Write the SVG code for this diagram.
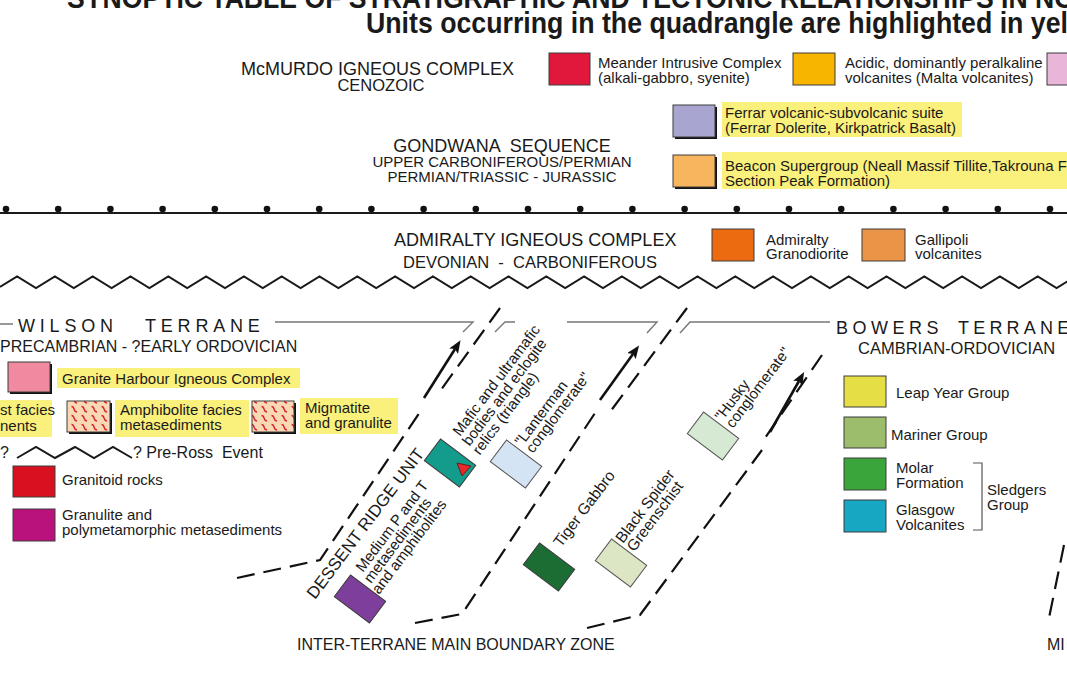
<svg xmlns="http://www.w3.org/2000/svg" width="1067" height="675" viewBox="0 0 1067 675">
<defs>
<style>
text{font-family:"Liberation Sans",Arial,Helvetica,sans-serif;fill:#1a1a1a}
.f18{font-size:18px}.f16{font-size:16px}.f15{font-size:15px}.r15{font-size:15px}
.bx{stroke:#3c3c3c;stroke-width:1}
.sh{fill:#111}
.hl{fill:#faf07c}
.dash{fill:none;stroke:#111;stroke-width:2.2;stroke-dasharray:18 9}
.arr{fill:none;stroke:#111;stroke-width:2.6;marker-end:url(#ah)}
.gl{fill:none;stroke:#777;stroke-width:1.4}
.sep{fill:none;stroke:#1a1a1a;stroke-width:2}
</style>
<marker id="ah" viewBox="0 0 10 8" refX="2" refY="4" markerWidth="5" markerHeight="4" orient="auto" markerUnits="strokeWidth">
<path d="M0,0 L10,4 L0,8 L2,4 Z" fill="#111"/>
</marker>
<pattern id="amph" width="10" height="9" patternUnits="userSpaceOnUse">
<rect width="10" height="9" fill="#f9d8b6"/>
<path d="M1.5,1.5 q2,0 2.5,2.5 t3,3" fill="none" stroke="#d8242a" stroke-width="1.4"/>
</pattern>
</defs>
<rect width="1067" height="675" fill="#fff"/>

<g id="title">
<text x="67" y="8" font-size="29" font-weight="bold" textLength="1008" lengthAdjust="spacingAndGlyphs">SYNOPTIC TABLE OF STRATIGRAPHIC AND TECTONIC RELATIONSHIPS IN NO</text>
<text x="366" y="33" font-size="29" font-weight="bold" textLength="702" lengthAdjust="spacingAndGlyphs">Units occurring in the quadrangle are highlighted in yel</text>
</g>

<g id="mcmurdo">
<text x="241" y="75" class="f18">McMURDO IGNEOUS COMPLEX</text>
<text x="381" y="91" font-size="16.5" text-anchor="middle">CENOZOIC</text>
</g>
<g id="meander">
<rect x="549" y="53" width="41" height="32" fill="#e2173c" class="bx"/>
<text x="598" y="68" class="f15">Meander Intrusive Complex</text>
<text x="598" y="83" class="f15">(alkali-gabbro, syenite)</text>
</g>
<g id="acidic">
<rect x="793" y="53" width="42" height="32" fill="#f7b500" class="bx"/>
<text x="845" y="68" class="f15">Acidic, dominantly peralkaline</text>
<text x="845" y="83" class="f15">volcanites (Malta volcanites)</text>
</g>
<g id="pinkunit">
<rect x="1047" y="53" width="30" height="32" fill="#e9b6da" class="bx"/>
</g>

<g id="gondwana">
<text x="502" y="152" font-size="18" text-anchor="middle" xml:space="preserve">GONDWANA  SEQUENCE</text>
<text x="502" y="167" class="f15" text-anchor="middle">UPPER CARBONIFEROUS/PERMIAN</text>
<text x="502" y="182" class="f15" text-anchor="middle">PERMIAN/TRIASSIC - JURASSIC</text>
</g>
<g id="ferrar">
<rect x="675" y="107" width="42" height="32" class="sh"/>
<rect x="673" y="105" width="42" height="32" fill="#a8a6d0" class="bx"/>
<rect x="722" y="102" width="240" height="35" class="hl"/>
<text x="725" y="118" class="f15">Ferrar volcanic-subvolcanic suite</text>
<text x="725" y="133" class="f15">(Ferrar Dolerite, Kirkpatrick Basalt)</text>
</g>
<g id="beacon">
<rect x="675" y="157" width="42" height="32" class="sh"/>
<rect x="673" y="155" width="42" height="32" fill="#f7b55e" class="bx"/>
<rect x="722" y="152" width="345" height="37" class="hl"/>
<text x="725" y="171" class="f15">Beacon Supergroup (Neall Massif Tillite,Takrouna Formation,</text>
<text x="725" y="186" class="f15">Section Peak Formation)</text>
</g>

<g id="boundaries">
<line x1="0" y1="213" x2="1067" y2="213" class="sep"/>
<g fill="#111">
<circle cx="6" cy="209" r="3.3"/><circle cx="58.2" cy="209" r="3.3"/><circle cx="110.4" cy="209" r="3.3"/><circle cx="162.6" cy="209" r="3.3"/><circle cx="214.8" cy="209" r="3.3"/><circle cx="267" cy="209" r="3.3"/><circle cx="319.2" cy="209" r="3.3"/><circle cx="371.4" cy="209" r="3.3"/><circle cx="423.6" cy="209" r="3.3"/><circle cx="475.8" cy="209" r="3.3"/><circle cx="528" cy="209" r="3.3"/><circle cx="580.2" cy="209" r="3.3"/><circle cx="632.4" cy="209" r="3.3"/><circle cx="684.6" cy="209" r="3.3"/><circle cx="736.8" cy="209" r="3.3"/><circle cx="789" cy="209" r="3.3"/><circle cx="841.2" cy="209" r="3.3"/><circle cx="893.4" cy="209" r="3.3"/><circle cx="945.6" cy="209" r="3.3"/><circle cx="997.8" cy="209" r="3.3"/><circle cx="1050" cy="209" r="3.3"/>
</g>
<path class="sep" d="M0,286.9 L17.1,276.5 l18.9,11.5 18.9,-11.5 l18.9,11.5 18.9,-11.5 l18.9,11.5 18.9,-11.5 l18.9,11.5 18.9,-11.5 l18.9,11.5 18.9,-11.5 l18.9,11.5 18.9,-11.5 l18.9,11.5 18.9,-11.5 l18.9,11.5 18.9,-11.5 l18.9,11.5 18.9,-11.5 l18.9,11.5 18.9,-11.5 l18.9,11.5 18.9,-11.5 l18.9,11.5 18.9,-11.5 l18.9,11.5 18.9,-11.5 l18.9,11.5 18.9,-11.5 l18.9,11.5 18.9,-11.5 l18.9,11.5 18.9,-11.5 l18.9,11.5 18.9,-11.5 l18.9,11.5 18.9,-11.5 l18.9,11.5 18.9,-11.5 l18.9,11.5 18.9,-11.5 l18.9,11.5 18.9,-11.5 l18.9,11.5 18.9,-11.5 l18.9,11.5 18.9,-11.5 l18.9,11.5 18.9,-11.5 l18.9,11.5 18.9,-11.5 l18.9,11.5 18.9,-11.5 l18.9,11.5 18.9,-11.5 l18.9,11.5 18.9,-11.5 l18.9,11.5 18.9,-11.5 l18.9,11.5 18.9,-11.5"/>
</g>

<g id="admiralty">
<text x="394" y="246" class="f18">ADMIRALTY IGNEOUS COMPLEX</text>
<text x="403" y="268" font-size="16.5" xml:space="preserve">DEVONIAN  -  CARBONIFEROUS</text>
</g>
<g id="admiralty-granodiorite">
<rect x="712" y="229" width="42" height="32" fill="#ec6a10" class="bx"/>
<text x="766" y="245" class="f15">Admiralty</text>
<text x="766" y="259" class="f15">Granodiorite</text>
</g>
<g id="gallipoli">
<rect x="862" y="229" width="43" height="32" fill="#ea9447" class="bx"/>
<text x="915" y="245" class="f15">Gallipoli</text>
<text x="915" y="259" class="f15">volcanites</text>
</g>

<g id="wilson">
<path class="gl" d="M0,324 H13 M275,322 H473 L463,332 M495,332 L505,322 H515 M567,322 H657 L647,333 M680,333 L690,322 H830"/>
<text x="18" y="332" class="f18" letter-spacing="4.8">WILSON</text>
<text x="145" y="332" class="f18" letter-spacing="4.8">TERRANE</text>
<text x="0" y="352" class="f16">PRECAMBRIAN - ?EARLY ORDOVICIAN</text>
</g>
<g id="granite-harbour">
<rect x="10" y="364" width="42" height="30" class="sh"/>
<rect x="8" y="362" width="42" height="30" fill="#ef8aa0" class="bx"/>
<rect x="57" y="368" width="243" height="20" class="hl"/>
<text x="62" y="384" class="f15">Granite Harbour Igneous Complex</text>
</g>
<g id="greenschist">
<rect x="0" y="400" width="52" height="37" class="hl"/>
<text x="0" y="415" class="f15">st facies</text>
<text x="0" y="431" class="f15">nents</text>
</g>
<g id="amphibolite">
<rect x="69" y="403" width="43" height="31" class="sh"/>
<rect x="67" y="401" width="43" height="31" fill="url(#amph)" class="bx"/>
<rect x="115" y="400" width="134" height="37" class="hl"/>
<text x="120" y="415" class="f15">Amphibolite facies</text>
<text x="120" y="430" class="f15">metasediments</text>
</g>
<g id="migmatite">
<rect x="254" y="403" width="42" height="31" class="sh"/>
<rect x="252" y="401" width="42" height="31" fill="url(#amph)" class="bx"/>
<rect x="300" y="398" width="98" height="36" class="hl"/>
<text x="305" y="413" class="f15">Migmatite</text>
<text x="305" y="428" class="f15">and granulite</text>
</g>
<g id="pre-ross">
<text x="0" y="458" class="f16">?</text>
<path class="sep" d="M17,458 L36,447 L55,458 L75,447 L94,458 L113,447 L132,458" stroke-width="1.5"/>
<text x="133" y="458" class="f16" xml:space="preserve">? Pre-Ross  Event</text>
</g>
<g id="granitoid">
<rect x="13" y="466" width="42" height="31" fill="#d9101f" class="bx"/>
<text x="62" y="485" class="f15">Granitoid rocks</text>
</g>
<g id="granulite">
<rect x="13" y="509" width="42" height="32" fill="#b9127c" class="bx"/>
<text x="62" y="520" class="f15">Granulite and</text>
<text x="62" y="535" class="f15">polymetamorphic metasediments</text>
</g>

<g id="connectors">
<path class="dash" d="M237,578 L320,560 L420,412"/>
<path class="arr" d="M424,398 L455,349"/>
<path class="dash" d="M500,308 L438,394"/>
<path class="dash" d="M415,623 L462,614 L597,410"/>
<path class="arr" d="M600,400 L633,354"/>
<path class="dash" d="M687,308 L610,412"/>
<path class="dash" d="M587,628 L640,615 L762,450"/>
<path class="arr" d="M770,432 L799,381"/>
<path class="dash" d="M822,355 L765,438"/>
<path class="dash" d="M1064,545 L1049,618"/>
</g>

<g id="dessent-ridge">
<text font-size="17" transform="translate(315,600) rotate(-53)">DESSENT RIDGE UNIT</text>
</g>
<g id="medium-pt">
<rect x="-22" y="-13.5" width="44" height="27" fill="#7e3f9c" class="bx" transform="translate(360,599) rotate(37)"/>
<g transform="translate(363,573) rotate(-53)" class="r15">
<text x="0" y="0">Medium P and T</text>
<text x="-4" y="13">metasediments</text>
<text x="-8" y="26">and amphibolites</text>
</g>
</g>
<g id="mafic">
<rect x="-22" y="-13.5" width="44" height="27" fill="#139c8c" class="bx" transform="translate(450,463) rotate(37)"/>
<path d="M457,463 L471,466 L462,476 Z" fill="#e8282a" stroke="#5a1010" stroke-width="0.8"/>
<g transform="translate(460,437) rotate(-53)" class="r15">
<text x="0" y="0">Mafic and ultramafic</text>
<text x="-2" y="13.5">bodies and eclogite</text>
<text x="-3" y="27">relics (triangle)</text>
</g>
</g>
<g id="lanterman">
<rect x="-22" y="-13.5" width="44" height="27" fill="#d5e4f5" stroke="#555" stroke-width="1" transform="translate(516,464) rotate(37)"/>
<g transform="translate(522,447) rotate(-53)" class="r15">
<text x="0" y="0">"Lanterman</text>
<text x="1" y="13">conglomerate"</text>
</g>
</g>
<g id="tiger-gabbro">
<rect x="-22" y="-13.5" width="44" height="27" fill="#1b6d34" class="bx" transform="translate(549,567) rotate(37)"/>
<text font-size="15.5" transform="translate(561,548) rotate(-53)">Tiger Gabbro</text>
</g>
<g id="black-spider">
<rect x="-22" y="-13.5" width="44" height="27" fill="#dce6c4" stroke="#555" stroke-width="1" transform="translate(621,563) rotate(37)"/>
<g transform="translate(623,544) rotate(-53)" font-size="15.5">
<text x="0" y="0">Black Spider</text>
<text x="0" y="14">Greenschist</text>
</g>
</g>
<g id="husky">
<rect x="-22" y="-13.5" width="44" height="27" fill="#d6e9d3" stroke="#555" stroke-width="1" transform="translate(713,436) rotate(37)"/>
<g transform="translate(722,422) rotate(-53)" class="r15">
<text x="0" y="0">"Husky</text>
<text x="1" y="13">conglomerate"</text>
</g>
</g>

<g id="bowers">
<text x="836" y="334" class="f18" letter-spacing="4.5">BOWERS</text>
<text x="958" y="334" class="f18" letter-spacing="4.2">TERRANE</text>
<text x="858" y="354" font-size="16.5">CAMBRIAN-ORDOVICIAN</text>
</g>
<g id="leap-year">
<rect x="844" y="376" width="42" height="31" fill="#e5df45" class="bx"/>
<text x="896" y="398" class="f15">Leap Year Group</text>
</g>
<g id="mariner">
<rect x="844" y="417" width="42" height="31" fill="#9bbd6c" class="bx"/>
<text x="891" y="440" class="f15">Mariner Group</text>
</g>
<g id="molar">
<rect x="844" y="458" width="42" height="32" fill="#3aa53a" class="bx"/>
<text x="896" y="473" class="f15">Molar</text>
<text x="896" y="488" class="f15">Formation</text>
</g>
<g id="glasgow">
<rect x="844" y="500" width="42" height="32" fill="#17a7c2" class="bx"/>
<text x="896" y="515" class="f15">Glasgow</text>
<text x="896" y="530" class="f15">Volcanites</text>
</g>
<g id="sledgers">
<path d="M973,463 H982 V530 H973" fill="none" stroke="#555" stroke-width="1.2"/>
<text x="987" y="495" class="f15">Sledgers</text>
<text x="987" y="510" class="f15">Group</text>
</g>

<g id="boundary-zone">
<text x="297" y="650" class="f16">INTER-TERRANE MAIN BOUNDARY ZONE</text>
<text x="1047" y="650" class="f16">MI</text>
</g>
</svg>
